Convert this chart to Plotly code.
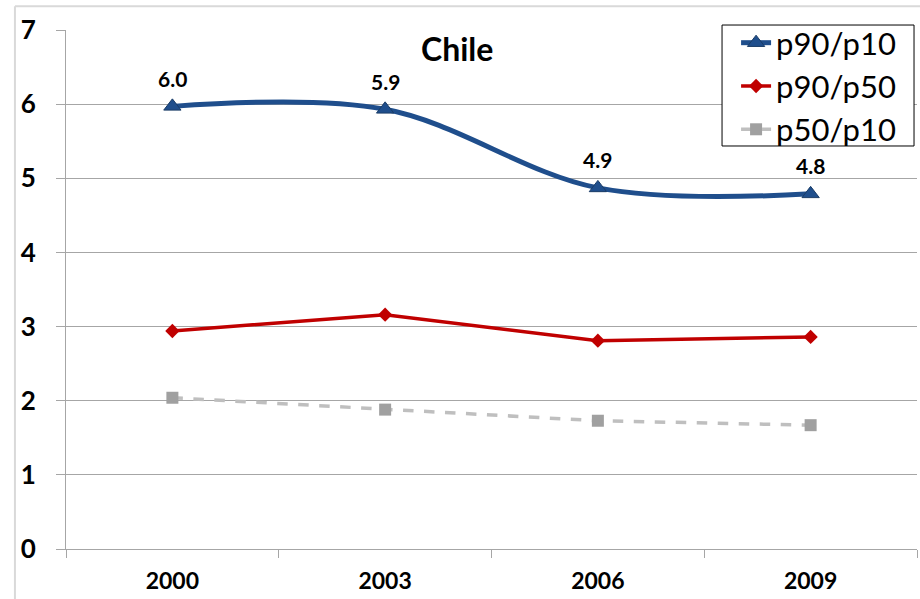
import plotly.graph_objects as go

# Inequality ratios for Chile by survey year
years = ["2000", "2003", "2006", "2009"]
p90_p10 = [5.97, 5.93, 4.87, 4.79]
p90_p50 = [2.94, 3.16, 2.81, 2.86]
p50_p10 = [2.04, 1.88, 1.73, 1.67]
p90_p10_labels = ["6.0", "5.9", "4.9", "4.8"]

FONT = "Lato, 'Liberation Sans', sans-serif"

fig = go.Figure()

fig.add_trace(go.Scatter(
    x=years, y=p90_p10, name="p90/p10", mode="lines+markers",
    line=dict(color="#1F4E8C", width=5, shape="spline", smoothing=1.0),
    marker=dict(symbol="triangle-up", size=15, color="#1F4E8C",
                line=dict(color="#1A3C66", width=1)),
))
fig.add_trace(go.Scatter(
    x=years, y=p90_p50, name="p90/p50", mode="lines+markers",
    line=dict(color="#C00000", width=3.5),
    marker=dict(symbol="diamond", size=11, color="#C00000"),
))
fig.add_trace(go.Scatter(
    x=years, y=p50_p10, name="p50/p10", mode="lines+markers",
    line=dict(color="#BFBFBF", width=3.5, dash="dash"),
    marker=dict(symbol="square", size=12, color="#A0A0A0"),
))

# Value labels above the p90/p10 markers (category index positions)
for i, (val, lab) in enumerate(zip(p90_p10, p90_p10_labels)):
    fig.add_annotation(x=i, y=val, text=lab, showarrow=False, yshift=28,
                       font=dict(family=FONT, size=21, color="black", weight="bold"))

fig.add_annotation(x=0.459, y=0.965, xref="paper", yref="paper", text="Chile",
                   showarrow=False, xanchor="center", yanchor="middle",
                   font=dict(family=FONT, size=32, color="black", weight="bold"))

# Outer chart frame (left and top edges)
fig.add_shape(type="line", xref="paper", yref="paper", x0=-0.06, x1=1.01,
              y0=1.046, y1=1.046, line=dict(color="#D9D9D9", width=2))
fig.add_shape(type="line", xref="paper", yref="paper", x0=-0.06, x1=-0.06,
              y0=-0.2, y1=1.046, line=dict(color="#D9D9D9", width=2))

# Legend frame
fig.add_shape(type="rect", xref="paper", yref="paper", layer="above",
              x0=0.7709, x1=0.9965, y0=0.7765, y1=1.0096,
              fillcolor="white", line=dict(color="black", width=1))

fig.update_layout(
    width=920, height=599,
    margin=dict(l=66, r=3, t=30, b=50),
    paper_bgcolor="white", plot_bgcolor="white",
    font=dict(family=FONT, color="black"),
    showlegend=True,
    legend=dict(
        x=0.7874, y=1.0269, xanchor="left", yanchor="top",
        bgcolor="rgba(0,0,0,0)", borderwidth=0,
        font=dict(family=FONT, size=31, color="black"),
        itemwidth=30,
    ),
    xaxis=dict(
        type="category", range=[-0.5, 3.5],
        showgrid=False, showline=True, linecolor="#A6A6A6", linewidth=1,
        ticks="outside", tickson="boundaries", ticklen=8, tickcolor="#A6A6A6",
        ticklabelstandoff=11,
        tickfont=dict(family=FONT, size=23, color="black", weight="bold"),
    ),
    yaxis=dict(
        range=[0, 7], dtick=1, showgrid=True, gridcolor="#A6A6A6", gridwidth=1,
        showline=True, linecolor="#A6A6A6", linewidth=1, zeroline=False,
        ticks="outside", ticklen=9, tickcolor="#A6A6A6",
        ticklabelstandoff=15,
        tickfont=dict(family=FONT, size=26, color="black", weight="bold"),
    ),
)

fig.write_html("out.html")
